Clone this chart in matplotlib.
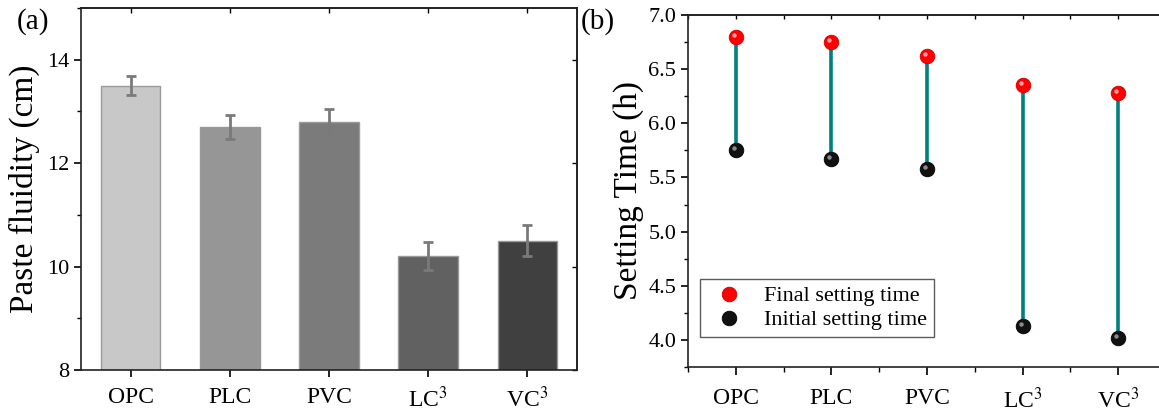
import numpy as np
import matplotlib.pyplot as plt
from matplotlib.ticker import MultipleLocator, FixedLocator, NullFormatter
import matplotlib.transforms as mtransforms

plt.rcParams['font.family'] = ['Liberation Serif', 'DejaVu Serif']
plt.rcParams['mathtext.fontset'] = 'stix'

# data
mixes = ['OPC', 'PLC', 'PVC', 'LC$^3$', 'VC$^3$']
fluidity = [13.5, 12.7, 12.8, 10.2, 10.5]
fluidity_err = [0.18, 0.23, 0.25, 0.27, 0.30]
bar_colors = ['#c8c8c8', '#969696', '#7b7b7b', '#616161', '#404040']
final_set = [6.80, 6.75, 6.62, 6.35, 6.28]
initial_set = [5.75, 5.67, 5.58, 4.13, 4.02]

W, H = 1159, 415
fig = plt.figure(figsize=(W / 100, H / 100), dpi=100)
ax1 = fig.add_axes([81 / W, 1 - 370 / H, (577 - 81) / W, (370 - 8) / H])
ax2 = fig.add_axes([688 / W, 1 - 367 / H, (1166 - 688) / W, (367 - 15) / H])

x = np.arange(1, len(mixes) + 1)
same = (lambda v: v, lambda v: v)

# (a) paste fluidity
ax1.bar(x, fluidity, width=0.6, color=bar_colors, edgecolor='#999999', linewidth=1.0, zorder=2)
ax1.errorbar(x, fluidity, yerr=fluidity_err, fmt='none', ecolor='#7a7a7a',
             elinewidth=2, capsize=3.5, capthick=2, zorder=3)
ax1.set_xlim(0.5, 5.5)
ax1.set_ylim(8, 15)
ax1.set_xticks(x)
ax1.set_xticklabels(mixes)
ax1.yaxis.set_major_locator(FixedLocator([8, 10, 12, 14]))
ax1.yaxis.set_minor_locator(MultipleLocator(1))
ax1.set_ylabel('Paste fluidity (cm)', fontsize=24, labelpad=5)
ax1.tick_params(axis='x', which='major', direction='out', length=5, width=1.2,
                labelsize=17, pad=7)
ax1.tick_params(axis='y', which='major', direction='out', length=5, width=1.2, labelsize=16)
ax1.tick_params(axis='y', which='minor', direction='out', length=3, width=1.0)
top1 = ax1.secondary_xaxis('top', functions=same)
top1.set_xticks(x)
top1.tick_params(direction='in', length=3.5, width=1.0, labelsize=0)
top1.xaxis.set_major_formatter(NullFormatter())
right1 = ax1.secondary_yaxis('right', functions=same)
right1.yaxis.set_major_locator(FixedLocator([8, 10, 12, 14]))
right1.tick_params(direction='in', length=3.5, width=1.0)
right1.yaxis.set_major_formatter(NullFormatter())
ax1.text(-0.13, 1.0, '(a)', transform=ax1.transAxes, fontsize=21, va='top', ha='left')

# (b) setting time
for i in range(len(x)):
    ax2.plot([x[i], x[i]], [initial_set[i], final_set[i]], color='#008080', lw=2.6, zorder=2)

ax2.plot(x, final_set, 'o', color='#ff0000', mec='#d00000', mew=0.6, ms=10.5,
         zorder=3, label='Final setting time')
ax2.plot(x, initial_set, 'o', color='#111111', mec='#000000', mew=0.6, ms=10.5,
         zorder=3, label='Initial setting time')
shift = mtransforms.ScaledTranslation(-2 / 100, 2 / 100, fig.dpi_scale_trans)
for vals, hl in [(final_set, '#ffb0b0'), (initial_set, '#999999')]:
    ax2.plot(x, vals, 'o', color=hl, mec='none', ms=3.2, alpha=0.9,
             transform=ax2.transData + shift, zorder=4)

ax2.set_xlim(0.5, 5.5)
ax2.set_ylim(3.75, 7.0)
ax2.set_xticks(x)
ax2.set_xticklabels(mixes)
ax2.xaxis.set_minor_locator(MultipleLocator(0.5))
ax2.yaxis.set_major_locator(MultipleLocator(0.5))
ax2.yaxis.set_minor_locator(MultipleLocator(0.25))
ax2.set_yticklabels([f'{v:.1f}' for v in ax2.get_yticks()])
ax2.set_ylabel('Setting Time (h)', fontsize=24, labelpad=3)
ax2.tick_params(axis='x', which='major', direction='out', length=6, width=1.2,
                labelsize=17, pad=9)
ax2.tick_params(axis='x', which='minor', direction='out', length=3.5, width=1.0)
ax2.tick_params(axis='y', which='major', direction='out', length=5, width=1.2, labelsize=16)
ax2.tick_params(axis='y', which='minor', direction='out', length=3, width=1.0)
ax2.spines['right'].set_visible(False)
top2 = ax2.secondary_xaxis('top', functions=same)
top2.set_xticks(x)
top2.xaxis.set_minor_locator(MultipleLocator(0.5))
top2.tick_params(which='both', direction='in', length=3, width=1.0)
top2.xaxis.set_major_formatter(NullFormatter())
ax2.text(-0.225, 1.02, '(b)', transform=ax2.transAxes, fontsize=21, va='top', ha='left')

leg = ax2.legend(loc='lower left', bbox_to_anchor=(700 / W, 1 - 337 / H), bbox_transform=fig.transFigure,
                 fontsize=16, frameon=True, fancybox=False, edgecolor='#333333', borderaxespad=0,
                 handletextpad=0.6, borderpad=0.3, labelspacing=0.15, handlelength=2.0)
leg.get_frame().set_linewidth(1.0)

for ax in (ax1, ax2):
    for sp in ax.spines.values():
        sp.set_linewidth(1.2)
        sp.set_color('#222222')
for sec in (top1, right1, top2):
    for sp in sec.spines.values():
        sp.set_linewidth(1.2)
        sp.set_color('#222222')

fig.savefig('out.png', dpi=100)
